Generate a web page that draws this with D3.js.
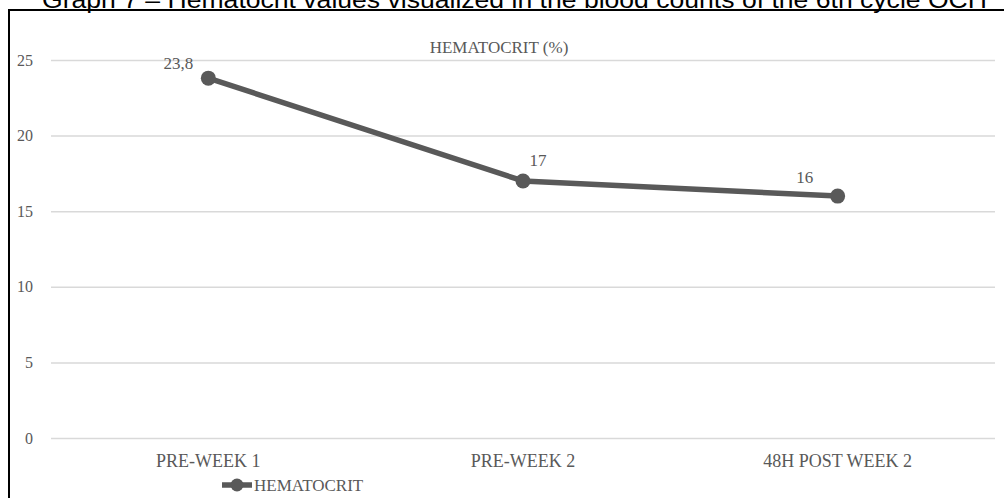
<!DOCTYPE html>
<html>
<head>
<meta charset="utf-8">
<script src="https://cdn.jsdelivr.net/npm/d3@7"></script>
<style>
	body { margin: 0; background: #fff; }
	svg text { font-family: "Liberation Serif", "Times New Roman", serif; fill: #595959; }
</style>
</head>
<body>
<div id="chart"></div>
<script>
// data
const categories = ["PRE-WEEK 1", "PRE-WEEK 2", "48H POST WEEK 2"];
const hematocrit = [23.8, 17, 16];
const valueLabels = ["23,8", "17", "16"];
const yTicks = [0, 5, 10, 15, 20, 25];
const seriesName = "HEMATOCRIT";
const chartTitle = "HEMATOCRIT (%)";
const pageCaption = "Graph 7 \u2013 Hematocrit values visualized in the blood counts of the 6th cycle OCH";

const width = 1004, height = 498;
const margin = { top: 60, right: 9, bottom: 60, left: 51 }; // plot box: 51..995, 60..438
const lineColor = "#595959";

const svg = d3.select("#chart").append("svg")
	.attr("width", width).attr("height", height);

// caption above the frame, its top is cut off like in the scan
svg.append("text")
	.attr("x", 42).attr("y", 8)
	.attr("textLength", 945).attr("lengthAdjust", "spacingAndGlyphs")
	.style("font-family", "'Liberation Sans', Arial, sans-serif")
	.style("font-size", "24px")
	.style("fill", "#000")
	.text(pageCaption);

// chart frame (only left and top edges are in view)
svg.append("rect")
	.attr("x", 9).attr("y", 10)
	.attr("width", 1010).attr("height", 500)
	.attr("fill", "none").attr("stroke", "#000").attr("stroke-width", 2);

const plotW = width - margin.left - margin.right,
	plotH = 438 - margin.top;

const x = d3.scaleBand(categories, [0, plotW]);
const y = d3.scaleLinear([0, 25], [plotH, 0]);

const chart = svg.append("g")
	.attr("transform", `translate(${margin.left}, ${margin.top})`);

// gridlines + y labels
const yAxis = chart.append("g")
	.call(d3.axisLeft(y).tickValues(yTicks).tickSize(-plotW).tickPadding(18));
yAxis.select(".domain").remove();
yAxis.selectAll(".tick line").attr("stroke", "#d9d9d9").attr("stroke-width", 1.5);
yAxis.selectAll(".tick text")
	.style("font-size", "16px").attr("fill", "#595959");

// x labels
const xAxis = chart.append("g")
	.attr("transform", `translate(0, ${plotH})`)
	.call(d3.axisBottom(x).tickSize(0).tickPadding(16));
xAxis.select(".domain").remove();
xAxis.selectAll(".tick text")
	.style("font-size", "18px").attr("fill", "#595959");

// title
svg.append("text")
	.attr("x", 499).attr("y", 53)
	.attr("text-anchor", "middle")
	.style("font-size", "17px")
	.text(chartTitle);

// line
const pts = categories.map((c, i) => [c, hematocrit[i]]);
const line = d3.line()
	.x(d => x(d[0]) + x.bandwidth() / 2)
	.y(d => y(d[1]));

chart.append("path")
	.datum(pts)
	.attr("d", line)
	.attr("fill", "none")
	.attr("stroke", lineColor)
	.attr("stroke-width", 5.5)
	.attr("stroke-linejoin", "round");

chart.selectAll("circle.pt")
	.data(pts)
	.join("circle")
	.classed("pt", true)
	.attr("cx", d => x(d[0]) + x.bandwidth() / 2)
	.attr("cy", d => y(d[1]))
	.attr("r", 7.5)
	.attr("fill", lineColor);

// value labels (Excel puts them above, nudged sideways)
const labelDx = [-30, 15, -33],
	labelDy = [-9, -15, -13];
chart.selectAll("text.val")
	.data(pts)
	.join("text")
	.classed("val", true)
	.attr("x", (d, i) => x(d[0]) + x.bandwidth() / 2 + labelDx[i])
	.attr("y", (d, i) => y(d[1]) + labelDy[i])
	.attr("text-anchor", "middle")
	.style("font-size", "17px")
	.text((d, i) => valueLabels[i]);

// legend
const legend = svg.append("g").attr("transform", "translate(222, 485)");
legend.append("line")
	.attr("x1", 0).attr("x2", 30)
	.attr("stroke", lineColor).attr("stroke-width", 5.5);
legend.append("circle")
	.attr("cx", 15).attr("r", 6.5).attr("fill", lineColor);
legend.append("text")
	.attr("x", 32).attr("y", 6)
	.style("font-size", "17px")
	.text(seriesName);
</script>
</body>
</html>
